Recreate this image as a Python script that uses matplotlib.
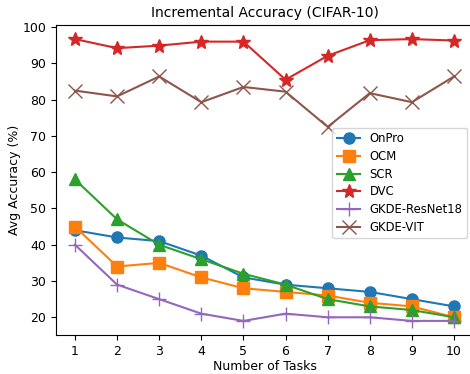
import matplotlib
matplotlib.use("Agg")
import matplotlib.pyplot as plt

tasks = [1, 2, 3, 4, 5, 6, 7, 8, 9, 10]
onpro = [44, 42, 41, 37, 31, 29, 28, 27, 25, 23]
ocm = [45, 34, 35, 31, 28, 27, 26, 24, 23, 20]
scr = [58, 47, 40, 36, 32, 29, 25, 23, 22, 20]
dvc = [96.7, 94.2, 94.9, 96.0, 96.0, 85.5, 92.1, 96.4, 96.7, 96.3]
gkde_resnet = [40, 29, 25, 21, 19, 21, 20, 20, 19, 19]
gkde_vit = [82.5, 80.9, 86.4, 79.3, 83.5, 82.2, 72.5, 81.8, 79.3, 86.4]

series = [
    ("OnPro", onpro, "o", "#1f77b4", 8),
    ("OCM", ocm, "s", "#ff7f0e", 8),
    ("SCR", scr, "^", "#2ca02c", 8),
    ("DVC", dvc, "*", "#d62728", 10),
    ("GKDE-ResNet18", gkde_resnet, "+", "#9467bd", 10),
    ("GKDE-VIT", gkde_vit, "x", "#8c564b", 10),
]

fig = plt.figure(figsize=(4.7, 3.74), dpi=100)
ax = fig.add_axes([56/470, 1 - 335/374, 417/470, (335-25)/374])
for name, vals, m, c, ms in series:
    ax.plot(tasks, vals, marker=m, color=c, markersize=ms, label=name, linewidth=1.5)

ax.set_xticks(tasks)
ax.set_yticks([20, 30, 40, 50, 60, 70, 80, 90, 100])
ax.tick_params(labelsize=9)
ax.spines["right"].set_visible(False)
ax.set_xlabel("Number of Tasks", fontsize=9, labelpad=2)
ax.set_ylabel("Avg Accuracy (%)", fontsize=9, labelpad=1)
ax.set_title("Incremental Accuracy (CIFAR-10)", fontsize=10)
ax.legend(loc="center right", fontsize=8.4, labelspacing=0.4,
          bbox_to_anchor=(1.0, 0.49))
fig.savefig("out.png", dpi=100)
